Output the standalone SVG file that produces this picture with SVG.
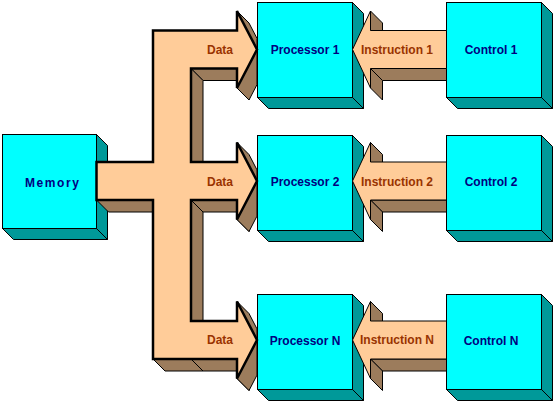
<svg xmlns="http://www.w3.org/2000/svg" width="554" height="402" viewBox="0 0 554 402">
<style>
.face{fill:#00FFFF;stroke:#000;stroke-width:1}
.side{fill:#009999;stroke:#000;stroke-width:1;stroke-linejoin:miter}
.dark{fill:#9C7C5C;stroke:#000;stroke-width:1;stroke-linejoin:miter}
.data{fill:#FFCC99;stroke:#000;stroke-width:2.5;stroke-linejoin:miter}
.instr{fill:#FFCC99;stroke:#000;stroke-width:1}
.lbl{font-family:"Liberation Sans",Arial,sans-serif;font-weight:bold;font-size:12px;text-anchor:middle}
.node{fill:#000080}
.clbl{fill:#993300}
</style>
<rect width="554" height="402" fill="#fff"/>
<g id="memory">
<polygon class="side" points="96.5,134.5 107.5,145.5 107.5,239.5 96.5,228.5"/>
<polygon class="side" points="2.5,228.5 96.5,228.5 107.5,239.5 13.5,239.5"/>
<rect class="face" x="2.5" y="134.5" width="94" height="94"/>
<text class="lbl node" x="52" y="186.5" textLength="54" lengthAdjust="spacing">Memory</text>
</g>
<g id="processor1">
<polygon class="side" points="352.5,2.5 363.5,13.5 363.5,108.5 352.5,97.5"/>
<polygon class="side" points="257.5,97.5 352.5,97.5 363.5,108.5 268.5,108.5"/>
<rect class="face" x="257.5" y="2.5" width="95" height="95"/>
<text class="lbl node" x="305" y="53.5">Processor 1</text>
</g>
<g id="processor2">
<polygon class="side" points="352.5,135.5 363.5,146.5 363.5,241.5 352.5,230.5"/>
<polygon class="side" points="257.5,230.5 352.5,230.5 363.5,241.5 268.5,241.5"/>
<rect class="face" x="257.5" y="135.5" width="95" height="95"/>
<text class="lbl node" x="305" y="186">Processor 2</text>
</g>
<g id="processorN">
<polygon class="side" points="352.5,294.5 363.5,305.5 363.5,400.5 352.5,389.5"/>
<polygon class="side" points="257.5,389.5 352.5,389.5 363.5,400.5 268.5,400.5"/>
<rect class="face" x="257.5" y="294.5" width="95" height="95"/>
<text class="lbl node" x="305" y="344.5">Processor N</text>
</g>
<g id="control1">
<polygon class="side" points="541.5,2.5 552.5,13.5 552.5,108.5 541.5,97.5"/>
<polygon class="side" points="446.5,97.5 541.5,97.5 552.5,108.5 457.5,108.5"/>
<rect class="face" x="446.5" y="2.5" width="95" height="95"/>
<text class="lbl node" x="491" y="53.5">Control 1</text>
</g>
<g id="control2">
<polygon class="side" points="541.5,135.5 552.5,146.5 552.5,241.5 541.5,230.5"/>
<polygon class="side" points="446.5,230.5 541.5,230.5 552.5,241.5 457.5,241.5"/>
<rect class="face" x="446.5" y="135.5" width="95" height="95"/>
<text class="lbl node" x="491" y="186">Control 2</text>
</g>
<g id="controlN">
<polygon class="side" points="541.5,294.5 552.5,305.5 552.5,400.5 541.5,389.5"/>
<polygon class="side" points="446.5,389.5 541.5,389.5 552.5,400.5 457.5,400.5"/>
<rect class="face" x="446.5" y="294.5" width="95" height="95"/>
<text class="lbl node" x="491" y="344.5">Control N</text>
</g>
<g id="connectors">
<g id="data-bus">
<polygon class="dark" points="191,68.5 237,68.5 249,80.5 203,80.5"/>
<polygon class="dark" points="191,68.5 203,80.5 203,162 191,162"/>
<polygon class="dark" points="96.5,200 153,200 165,212 108.5,212"/>
<polygon class="dark" points="191,200 237,200 249,212 203,212"/>
<polygon class="dark" points="191,200 203,212 203,321 191,321"/>
<polygon class="dark" points="153,359 237,359 249,371 165,371"/>
<line x1="191" y1="359" x2="203" y2="371" stroke="#000" stroke-width="1"/>
<g id="head1">
<polygon class="dark" points="237,11 257,49.5 257,38.4 249,23"/>
<polygon class="dark" points="237,68.5 249,80.5 249,100 237,88"/>
<polygon class="dark" points="237,88 257,49.5 257,84.6 249,100"/>
</g>
<use href="#head1" transform="translate(0,131.5)"/>
<use href="#head1" transform="translate(0,290.5)"/>
<polygon class="data" points="153,30.5 237,30.5 237,11 257,49.5 237,88 237,68.5 191,68.5 191,162 237,162 237,142.5 257,181 237,219.5 237,200 191,200 191,321 237,321 237,301.5 257,340 237,378.5 237,359 153,359 153,200 96.5,200 96.5,162 153,162"/>
<text class="lbl clbl" x="220" y="53.5">Data</text>
<text class="lbl clbl" x="220" y="185.5">Data</text>
<text class="lbl clbl" x="220" y="344">Data</text>
</g>
<g id="instr1">
<polygon class="dark" points="370.5,11 382.5,23 382.5,42.5 370.5,30.5"/>
<polygon class="dark" points="370.5,68.5 446.5,68.5 446.5,80.5 382.5,80.5"/>
<polygon class="dark" points="370.5,68.5 382.5,80.5 382.5,100 370.5,88"/>
<polygon class="instr" points="352.5,49.5 370.5,11 370.5,30.5 446.5,30.5 446.5,68.5 370.5,68.5 370.5,88"/>
</g>
<use href="#instr1" transform="translate(0,131.5)"/>
<use href="#instr1" transform="translate(0,290.5)"/>
<text class="lbl clbl" x="397" y="53.5">Instruction 1</text>
<text class="lbl clbl" x="397" y="186">Instruction 2</text>
<text class="lbl clbl" x="397" y="344">Instruction N</text>
</g>
</svg>
